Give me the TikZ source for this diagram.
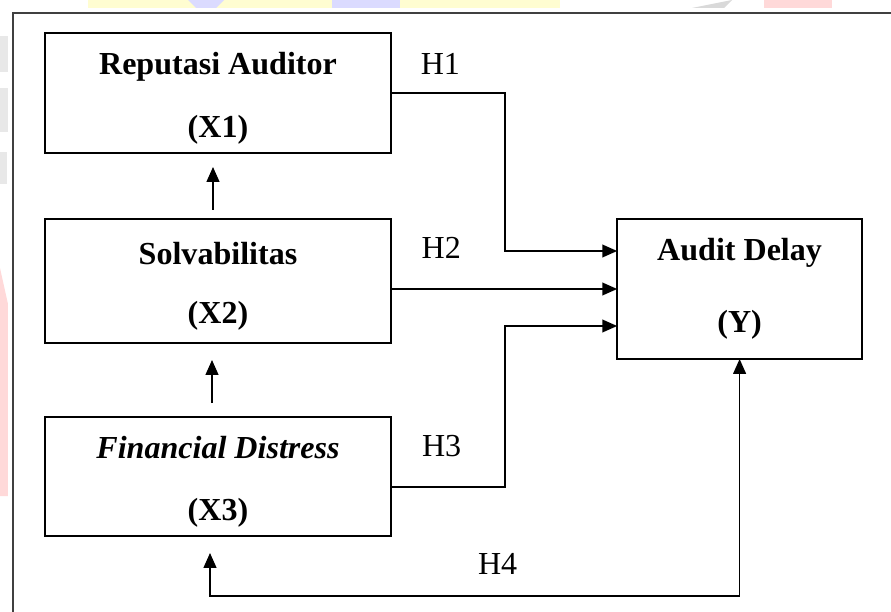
\documentclass[tikz,border=0pt]{standalone}
\usepackage{fontspec}
\setmainfont{Liberation Serif}
\usetikzlibrary{arrows.meta,positioning}
\newcommand{\toppad}{\rule{0pt}{0.82cm}}

\begin{document}
\begin{tikzpicture}[
    varbox/.style={rectangle, draw, line width=1.3pt, inner sep=0pt, outer sep=0pt, align=center, minimum width=8.65cm, minimum height=3cm, font=\fontsize{22.8pt}{44.8pt}\selectfont\bfseries},
    hyp/.style={inner sep=0pt, font=\fontsize{22.8pt}{27pt}\selectfont},
    arrow/.style={line width=1pt, -{Triangle[length=0.37cm,width=0.32cm]}}
]
    \useasboundingbox (0,0) rectangle (22.275,-15.3);
    % watermark bits in the margin
    \fill [yellow!18] (2.2,0) rectangle (14,-0.2);
    \fill [blue!14] (4.7,0) -- (5.6,0) -- (5.4,-0.2) -- (4.9,-0.2) -- cycle;
    \fill [blue!14] (8.3,0) rectangle (10,-0.2);
    \fill [gray!30] (17.3,-0.2) -- (18.3,0) -- (18.1,-0.2) -- cycle;
    \fill [red!15] (19.1,0) rectangle (20.8,-0.2);
    \fill [gray!18] (0,-0.9) rectangle (0.2,-1.8);
    \fill [gray!18] (0,-2.2) rectangle (0.2,-3.3);
    \fill [gray!18] (0,-3.8) rectangle (0.18,-4.6);
    \fill [red!15] (0,-6.7) -- (0.2,-7.6) -- (0.2,-12.4) -- (0,-12.4) -- cycle;

    % outer frame
    \draw [line width=1.4pt, black!75] (0.325,-16) -- (0.325,-0.325) -- (23,-0.325);

    % variables
    \node [varbox] (x1) at (5.45,-2.325) {\toppad Reputasi Auditor\\(X1)};
    \node [varbox, minimum height=3.1cm, font=\fontsize{22.8pt}{42.5pt}\selectfont\bfseries] (x2) at (5.45,-7.025) {\toppad Solvabilitas\\(X2)};
    \node [varbox, minimum height=2.975cm] (x3) at (5.45,-11.9125) {\toppad\textit{Financial Distress}\\(X3)};
    \node [varbox, minimum width=6.125cm, minimum height=3.5cm, font=\fontsize{22.8pt}{51.2pt}\selectfont\bfseries] (y) at (18.49,-7.225) {Audit Delay\\(Y)};

    % hypothesis labels
    \node [hyp] (h1) at (11.01,-1.59) {H1};
    \node [hyp] (h2) at (11.03,-6.19) {H2};
    \node [hyp] (h3) at (11.04,-11.14) {H3};
    \node [hyp] (h4) at (12.44,-14.1) {H4};

    % arrows between variables
    \draw [arrow, shorten <=0.225cm, shorten >=0.35cm] ([xshift=-0.125cm]x2.north) -- ([xshift=-0.125cm]x1.south);
    \draw [arrow, shorten <=0.35cm, shorten >=0.425cm] ([xshift=-0.15cm]x3.north) -- ([xshift=-0.15cm]x2.south);

    % arrows to audit delay
    \draw [arrow] (x1.east) -| ([xshift=-2.8cm,yshift=0.95cm]y.west) -- ([yshift=0.95cm]y.west);
    \draw [arrow] (y.west -| x2.east) -- (y.west);
    \draw [arrow] ([yshift=-0.26cm]x3.east) -| ([xshift=-2.8cm,yshift=-0.925cm]y.west) -- ([yshift=-0.925cm]y.west);

    % H4 loop
    \draw [arrow, {Triangle[length=0.37cm,width=0.32cm]}-{Triangle[length=0.37cm,width=0.32cm]}, shorten <=0.425cm] ([xshift=-0.2cm]x3.south) -- ++(0,-1.5) -| (y.south);
\end{tikzpicture}
\end{document}
